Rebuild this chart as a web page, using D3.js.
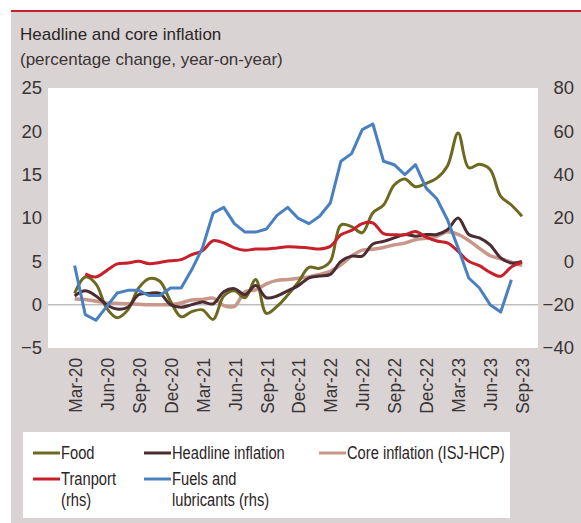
<!DOCTYPE html>
<html>
<head>
<meta charset="utf-8">
<script src="https://cdn.jsdelivr.net/npm/d3@7"></script>
<style>
  body { margin: 0; background: #fff; }
  svg { display: block; }
</style>
</head>
<body>
<svg width="581" height="523"></svg>
<script>
// Categories (monthly, Jan-20 .. Oct-23); data starts Mar-20.
const months = [
  "Jan-20","Feb-20","Mar-20","Apr-20","May-20","Jun-20","Jul-20","Aug-20","Sep-20","Oct-20","Nov-20","Dec-20",
  "Jan-21","Feb-21","Mar-21","Apr-21","May-21","Jun-21","Jul-21","Aug-21","Sep-21","Oct-21","Nov-21","Dec-21",
  "Jan-22","Feb-22","Mar-22","Apr-22","May-22","Jun-22","Jul-22","Aug-22","Sep-22","Oct-22","Nov-22","Dec-22",
  "Jan-23","Feb-23","Mar-23","Apr-23","May-23","Jun-23","Jul-23","Aug-23","Sep-23","Oct-23"
];
const tickMonths = ["Mar-20","Jun-20","Sep-20","Dec-20","Mar-21","Jun-21","Sep-21","Dec-21",
                    "Mar-22","Jun-22","Sep-22","Dec-22","Mar-23","Jun-23","Sep-23"];
const leftTicks = [-5, 0, 5, 10, 15, 20, 25];
const rightTicks = [-40, -20, 0, 20, 40, 60, 80];

// Series values, one per month starting Mar-20 (null = no data)
const food = [1.3, 3.2, 2.4, -0.4, -1.5, -0.6, 1.9, 3.0, 2.7, 0.4, -1.4, -0.8, -0.6, -1.7, 1.0, 1.6, 0.8, 2.9, -1.0, -0.2,
  1.1, 2.6, 4.3, 4.2, 5.0, 9.2, 9.0, 8.3, 10.6, 11.5, 13.8, 14.5, 13.6, 14.0, 14.6, 16.0, 19.8, 15.8, 16.2, 15.6, 12.5, 11.5, 10.2];
const headline = [1.0, 1.6, 1.0, 0.0, -0.5, -0.3, 1.15, 1.3, 1.3, 0.0, -0.3, 0.0, 0.3, 0.1, 1.5, 1.85, 1.15, 2.2, 0.8, 1.0,
  1.6, 2.2, 3.1, 3.3, 3.5, 5.0, 5.6, 5.6, 7.0, 7.3, 7.7, 8.1, 7.9, 8.1, 8.1, 8.65, 10.0, 8.1, 7.7, 6.9, 5.4, 4.8, 5.0];
const core = [0.65, 0.6, 0.4, 0.2, 0.15, 0.1, 0.05, 0.0, 0.0, 0.0, 0.2, 0.55, 0.6, 0.75, -0.1, -0.2, 1.5, 1.7, 2.4, 2.8,
  2.9, 3.05, 3.2, 3.5, 3.85, 4.6, 5.6, 6.3, 6.4, 6.6, 6.9, 7.1, 7.5, 7.65, 7.9, 8.4, 8.1, 7.4, 6.5, 5.65, 5.3, 4.9, 4.5];
const transport = [null, -5.8, -7.2, -4.3, -1.2, -0.8, 0.0, -1.1, -0.5, 0.3, 0.8, 3.1, 4.9, 9.5, 8.5, 6.2, 5.1, 5.7, 5.7, 6.2,
  6.7, 6.5, 6.2, 5.7, 6.9, 12.3, 14.3, 17.4, 17.7, 12.8, 12.3, 12.3, 13.8, 11.2, 9.4, 8.5, 4.6, 0.0, -2.0, -5.1, -6.9, -2.6, -0.5];
const fuels = [-2, -24.6, -27.2, -20.9, -14.6, -13.4, -13.4, -15.8, -15.8, -12.3, -12.3, -3.8, 6.2, 22.3, 24.9, 17.4, 13.5, 13.5, 14.9, 21.2,
  24.9, 19.8, 17.4, 20.8, 26.9, 46.2, 49.7, 60.8, 63.4, 46.2, 44.6, 40.0, 44.6, 33.8, 28.9, 19.2, 6.2, -7.7, -12.3, -20.0, -23.4, -8.5, null];
const firstMonth = "Mar-20";

const svg = d3.select("svg");
const plot = { left: 48, right: 538, top: 88, bottom: 348 };
const font = "'Liberation Sans', Arial, Helvetica, sans-serif";
const textCol = "#2b2526";
const labelCol = "#3a3435";
const narrowX = 0.91;   // condensed look for category labels
const narrowLegend = 0.84;

// Panel background and red rule
svg.append("rect").attr("x", 11).attr("y", 12).attr("width", 570).attr("height", 511).attr("fill", "#d9d3d3");
svg.append("line").attr("x1", 11).attr("x2", 581).attr("y1", 11).attr("y2", 11)
   .attr("stroke", "#c8202a").attr("stroke-width", 2);

// Title
svg.append("text").attr("x", 20).attr("y", 40).style("font-family", font).style("font-size", "17px")
   .attr("fill", textCol).text("Headline and core inflation");
svg.append("text").attr("x", 20).attr("y", 65).style("font-family", font).style("font-size", "17px")
   .attr("fill", labelCol).text("(percentage change, year-on-year)");

// Plot area
svg.append("rect").attr("x", plot.left).attr("y", plot.top)
   .attr("width", plot.right - plot.left).attr("height", plot.bottom - plot.top).attr("fill", "#fff");

// Scales
const xBand = d3.scaleBand().domain(months).range([plot.left, plot.right]);
const x = m => xBand(m) + xBand.bandwidth() / 2;
const yL = d3.scaleLinear().domain([-5, 25]).range([plot.bottom, plot.top]);
const yR = d3.scaleLinear().domain([-40, 80]).range([plot.bottom, plot.top]);

// Zero line
svg.append("line").attr("x1", plot.left).attr("x2", plot.right)
   .attr("y1", yL(0)).attr("y2", yL(0)).attr("stroke", "#bdbdbd").attr("stroke-width", 1.5);

// Axes
const minus = d => d < 0 ? "\u2212" + (-d) : d;
const leftAxis = svg.append("g").attr("transform", `translate(${plot.left},0)`)
   .call(d3.axisLeft(yL).tickValues(leftTicks).tickSize(0).tickPadding(6).tickFormat(minus));
const rightAxis = svg.append("g").attr("transform", `translate(${plot.right},0)`)
   .call(d3.axisRight(yR).tickValues(rightTicks).tickSize(0).tickPadding(36).tickFormat(minus));
rightAxis.selectAll("text").attr("text-anchor", "end");
[leftAxis, rightAxis].forEach(a => {
  a.select(".domain").remove();
  a.selectAll("text").style("font-family", font).style("font-size", "18.5px").attr("fill", labelCol);
});

const bottomAxis = svg.append("g").attr("transform", `translate(0,${plot.bottom})`)
   .call(d3.axisBottom(d3.scalePoint().domain(months).range([x(months[0]), x(months[months.length - 1])]))
         .tickValues(tickMonths).tickSize(0));
bottomAxis.select(".domain").remove();
bottomAxis.selectAll("text")
   .attr("transform", `rotate(-90) scale(${narrowX},1)`)
   .attr("x", -10 / narrowX).attr("y", 0).attr("dy", "0.35em")
   .attr("text-anchor", "end")
   .style("font-family", font).style("font-size", "19px").attr("fill", labelCol);

// Lines
const start = months.indexOf(firstMonth);
function toPoints(values) {
  return values.map((v, i) => ({ m: months[start + i], v }));
}
const series = [
  { name: "core", values: core, scale: yL, color: "#c9968a", width: 3.5, curve: d3.curveCatmullRom },
  { name: "food", values: food, scale: yL, color: "#6b6a20", width: 3, curve: d3.curveCatmullRom },
  { name: "headline", values: headline, scale: yL, color: "#4a2c31", width: 3, curve: d3.curveCatmullRom },
  { name: "transport", values: transport, scale: yR, color: "#c8202a", width: 3, curve: d3.curveCatmullRom },
  { name: "fuels", values: fuels, scale: yR, color: "#4a7fc0", width: 3, curve: d3.curveLinear }
];
series.forEach(s => {
  const line = d3.line()
     .x(d => x(d.m))
     .y(d => s.scale(d.v))
     .curve(s.curve);
  svg.append("path")
     .datum(toPoints(s.values).filter(d => d.v !== null))
     .attr("d", line)
     .attr("fill", "none")
     .attr("stroke", s.color)
     .attr("stroke-width", s.width)
     .attr("stroke-linejoin", "round");
});

// Legend
svg.append("rect").attr("x", 23).attr("y", 432).attr("width", 487).attr("height", 86).attr("fill", "#fff");
const legendItems = [
  { lines: ["Food"], color: "#6b6a20", lx: 33, ly: 453 },
  { lines: ["Headline inflation"], color: "#4a2c31", lx: 144, ly: 453 },
  { lines: ["Core inflation (ISJ-HCP)"], color: "#c9968a", lx: 319, ly: 453 },
  { lines: ["Tranport", "(rhs)"], color: "#c8202a", lx: 33, ly: 479 },
  { lines: ["Fuels and", "lubricants (rhs)"], color: "#4a7fc0", lx: 144, ly: 479 }
];
const lg = svg.selectAll(".legend-item").data(legendItems).enter().append("g")
   .attr("class", "legend-item").attr("transform", d => `translate(${d.lx},${d.ly})`);
lg.append("line").attr("x1", 0).attr("x2", 27).attr("y1", 0).attr("y2", 0)
   .attr("stroke", d => d.color).attr("stroke-width", 3);
lg.each(function(d) {
  const t = d3.select(this).append("text")
     .attr("transform", `translate(28,0) scale(${narrowLegend},1)`)
     .style("font-family", font).style("font-size", "17.5px").attr("fill", textCol);
  d.lines.forEach((l, i) => t.append("tspan").attr("x", 0).attr("dy", i === 0 ? "0.35em" : "1.2em").text(l));
});
</script>
</body>
</html>
